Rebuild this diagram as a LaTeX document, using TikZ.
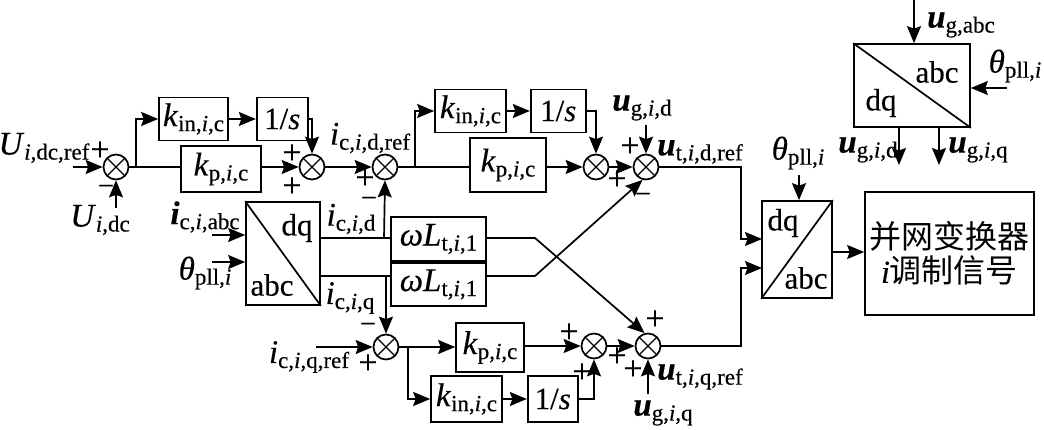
\documentclass[tikz,border=0pt]{standalone}
\usepackage{fontspec}
\setmainfont{Liberation Serif}[FakeBold=0.35]
\newfontfamily\cjk{Noto Sans CJK SC}
\usetikzlibrary{positioning, arrows.meta}
\newcommand{\idx}{\textit{i}}
\newcommand{\lab}[2]{{\fontsize{33}{33}\selectfont #1}\raisebox{-5pt}{\fontsize{23}{23}\selectfont #2}}

\begin{document}
\begin{tikzpicture}[
x=1pt, y=-1pt,
every node/.style={font=\fontsize{31}{31}\selectfont, inner sep=0pt},
blockbox/.style={rectangle, draw=black, line width=1.7pt},
sumnode/.style={circle, draw=black, line width=1.7pt, minimum size=25pt,
  path picture={\draw[line width=1.3pt] (path picture bounding box.north west) -- (path picture bounding box.south east);
  \draw[line width=1.3pt] (path picture bounding box.north east) -- (path picture bounding box.south west);}},
signnode/.style={font=\fontsize{34}{34}\selectfont},
minusnode/.style={font=\fontsize{28}{28}\selectfont},
flow/.style={-{Stealth[length=17pt,width=14pt,inset=2.5pt]}, line width=1.7pt},
wire/.style={line width=1.7pt},
]
\useasboundingbox (0,0) rectangle (1044,430);

%Blocks
\node[blockbox, minimum width=69pt, minimum height=43pt]  (kinA) at (193.5,119) {\lab{\textit{k}}{in,\idx,c}};
\node[blockbox, minimum width=51pt, minimum height=43pt]  (oneA) [right=27pt of kinA] {1/\textit{s}};
\node[blockbox, minimum width=80pt, minimum height=46pt]  (kpA) at (221,169) {\lab{\textit{k}}{p,\idx,c}};
\node[blockbox, minimum width=71pt, minimum height=43pt]  (kinB) at (470.5,111) {\lab{\textit{k}}{in,\idx,c}};
\node[blockbox, minimum width=55pt, minimum height=43pt]  (oneB) [right=23pt of kinB] {1/\textit{s}};
\node[blockbox, minimum width=76pt, minimum height=54pt]  (kpB) at (508,165) {\lab{\textit{k}}{p,\idx,c}};
\node[blockbox, minimum width=74pt, minimum height=103pt] (parkA) at (283,253.5) {};
\node[blockbox, minimum width=95pt, minimum height=44pt]  (wlA) at (438.5,239) {\lab{\textit{ωL}}{t,\idx,1}};
\node[blockbox, minimum width=95pt, minimum height=43pt]  (wlB) at (438.5,284.5) {\lab{\textit{ωL}}{t,\idx,1}};
\node[blockbox, minimum width=68pt, minimum height=49pt]  (kpC) at (490,347.5) {\lab{\textit{k}}{p,\idx,c}};
\node[blockbox, minimum width=71pt, minimum height=46pt]  (kinC) at (466.5,399) {\lab{\textit{k}}{in,\idx,c}};
\node[blockbox, minimum width=50pt, minimum height=46pt]  (oneC) [right=24pt of kinC] {1/\textit{s}};
\node[blockbox, minimum width=70pt, minimum height=97pt]  (parkB) at (797,249.5) {};
\node[blockbox, minimum width=169pt, minimum height=123pt, align=center] (pwm) at (949.5,253.5)
  {{\fontsize{32}{38}\selectfont\cjk 并网变换器}\\[3pt]{\fontsize{32}{38}\selectfont\textit{i}\cjk 调制信号}};
\node[blockbox, minimum width=116pt, minimum height=83pt] (parkC) at (912,85.5) {};

%Summing junctions
\node[sumnode] (sumA) at (116,167) {};
\node[sumnode] (sumB) at (312,167) {};
\node[sumnode] (sumC) at (385,167) {};
\node[sumnode] (sumD) at (596,167) {};
\node[sumnode] (sumE) at (646,167) {};
\node[sumnode] (sumF) at (386,347) {};
\node[sumnode] (sumG) at (594,346) {};
\node[sumnode] (sumH) at (648,346) {};

%Free ends and corners
\coordinate (inA) at (73,167);
\coordinate (inB) at (116,208);
\coordinate (branchA) at (136,167);
\coordinate (branchB) at (415,167);
\coordinate (branchC) at (408,347);
\coordinate (inC) at (212,235);
\coordinate (inD) at (212,262);
\coordinate (inE) at (316,347);
\coordinate (inF) at (646,125);
\coordinate (inG) at (648,394);
\coordinate (inH) at (799,175);
\coordinate (inI) at (914,0);
\coordinate (inJ) at (1007,88);
\coordinate (outA) at (899,165);
\coordinate (outB) at (939,165);
\coordinate (tapD) at (384,238);
\coordinate (tapQ) at (386,276);
\coordinate (parkOutD) at (320,238);
\coordinate (parkOutQ) at (320,276);
\coordinate (kneeA) at (535,238);
\coordinate (kneeB) at (535,276);
\coordinate (upD) at (741,167);
\coordinate (upQ) at (741,346);
\coordinate (parkInD) at (762,239);
\coordinate (parkInQ) at (762,268);
\coordinate (parkOut) at (832,252);

%Lines
\draw[flow] (inA) -- (sumA.west);
\draw[flow] (inB) -- (sumA.south);
\draw[wire] (sumA.east) -- (kpA.west |- sumA.east);
\draw[flow] (branchA) |- (kinA.west);
\draw[flow] (kinA.east) -- (oneA.west);
\draw[flow] (oneA.east) -| (sumB.north);
\draw[flow] (kpA.east |- sumB.west) -- (sumB.west);
\draw[flow] (sumB.east) -- (sumC.west);
\draw[wire] (sumC.east) -- (kpB.west |- sumC.east);
\draw[flow] (branchB) |- (kinB.west);
\draw[flow] (kinB.east) -- (oneB.west);
\draw[flow] (oneB.east) -| (sumD.north);
\draw[flow] (kpB.east |- sumD.west) -- (sumD.west);
\draw[flow] (sumD.east) -- (sumE.west);
\draw[flow] (inF) -- (sumE.north);
\draw[flow] (inC) -- (inC -| parkA.west);
\draw[flow] (inD) -- (inD -| parkA.west);
\draw[wire] (parkA.north west) -- (parkA.south east);
\draw[wire] (parkOutD) -- (wlA.west |- parkOutD);
\draw[wire] (parkOutQ) -- (wlB.west |- parkOutQ);
\draw[flow] (tapD) -- (sumC.south);
\draw[flow] (tapQ) -- (sumF.north);
\draw[flow] (wlA.east |- kneeA) -- (kneeA) -- (sumH.105);
\draw[flow] (wlB.east |- kneeB) -- (kneeB) -- (sumE.255);
\draw[flow] (inE) -- (sumF.west);
\draw[flow] (sumF.east) -- (kpC.west |- sumF.east);
\draw[flow] (branchC) |- (kinC.west);
\draw[flow] (kinC.east) -- (oneC.west);
\draw[flow] (oneC.east) -| (sumG.south);
\draw[flow] (kpC.east |- sumG.west) -- (sumG.west);
\draw[flow] (sumG.east) -- (sumH.west);
\draw[flow] (inG) -- (sumH.south);
\draw[flow] (sumE.east) -- (upD) |- (parkInD);
\draw[flow] (sumH.east) -- (upQ) |- (parkInQ);
\draw[wire] (parkB.north east) -- (parkB.south west);
\draw[flow] (inH) -- (inH |- parkB.north);
\draw[flow] (parkOut) -- (parkOut -| pwm.west);
\draw[wire] (parkC.north west) -- (parkC.south east);
\draw[flow] (inI) -- (inI |- parkC.north);
\draw[flow] (inJ) -- (inJ -| parkC.east);
\draw[flow] (outA |- parkC.south) -- (outA);
\draw[flow] (outB |- parkC.south) -- (outB);

%Labels
\node (txtUref) at (44,148) {\lab{\textit{U}}{\idx,dc,ref}};
\node (txtUdc) at (100,220) {\lab{\textit{U}}{\idx,dc}};
\node (txtIdref) at (370,138) {\lab{\textit{i}}{c,\idx,d,ref}};
\node (txtIabc) at (205,217) {\lab{\textbf{\textit{i}}}{c,\idx,abc}};
\node (txtId) at (351,219) {\lab{\textit{i}}{c,\idx,d}};
\node (txtIq) at (350,298) {\lab{\textit{i}}{c,\idx,q}};
\node (txtIqref) at (309,357) {\lab{\textit{i}}{c,\idx,q,ref}};
\node (txtThetaA) at (205,273) {\lab{\textit{θ}}{pll,\idx}};
\node (txtUgd) at (642,108) {\lab{\textbf{\textit{u}}}{g,\idx,d}};
\node (txtUtd) at (700,152) {\lab{\textbf{\textit{u}}}{t,\idx,d,ref}};
\node (txtUtq) at (700,377) {\lab{\textbf{\textit{u}}}{t,\idx,q,ref}};
\node (txtUgq) at (663,413) {\lab{\textbf{\textit{u}}}{g,\idx,q}};
\node (txtThetaB) at (798,153) {\lab{\textit{θ}}{pll,\idx}};
\node (txtUgabc) at (961,25) {\lab{\textbf{\textit{u}}}{g,abc}};
\node (txtThetaC) at (1015,66) {\lab{\textit{θ}}{pll,\idx}};
\node (txtUgdB) at (868,150) {\lab{\textbf{\textit{u}}}{g,\idx,d}};
\node (txtUgqB) at (978,150) {\lab{\textbf{\textit{u}}}{g,\idx,q}};
\node (dqA) at (297,228) {dq};
\node (abcA) at (272,285) {abc};
\node (dqB) at (783,223) {dq};
\node (abcB) at (806,278) {abc};
\node (abcC) at (937,72) {abc};
\node (dqC) at (881,103) {dq};

%Signs
\node[signnode] (plusA) at (100,151) {+};
\node[minusnode] (minusA) at (106,190) {−};
\node[signnode] (plusB) at (292,154) {+};
\node[signnode] (plusC) at (292,187) {+};
\node[signnode] (plusD) at (365,179) {+};
\node[minusnode] (minusB) at (369,202) {−};
\node[signnode] (plusE) at (630,147) {+};
\node[signnode] (plusF) at (617,180) {+};
\node[minusnode] (minusC) at (643,198) {−};
\node[minusnode] (minusD) at (368,328) {−};
\node[signnode] (plusG) at (368,364) {+};
\node[signnode] (plusH) at (569,333) {+};
\node[signnode] (plusI) at (617,357) {+};
\node[signnode] (plusJ) at (582,373) {+};
\node[signnode] (plusK) at (655,320) {+};
\node[signnode] (plusL) at (633,370) {+};
\end{tikzpicture}
\end{document}
